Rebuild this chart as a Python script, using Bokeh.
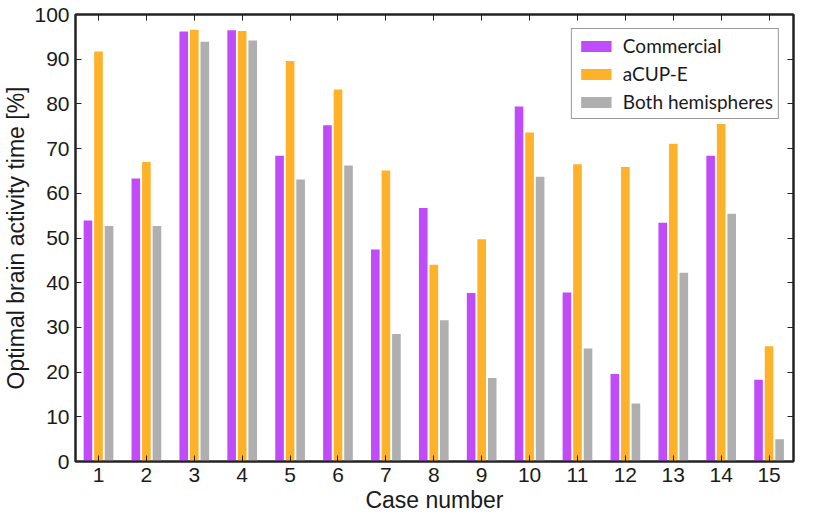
from bokeh.plotting import figure
from bokeh.models import Range1d, LinearAxis, FixedTicker, Legend, LegendItem, ColumnDataSource
from bokeh.transform import dodge
from bokeh.embed import file_html
from bokeh.resources import INLINE

cases = list(range(1, 16))
commercial = [53.9, 63.3, 96.2, 96.5, 68.4, 75.2, 47.4, 56.7, 37.7, 79.4, 37.8, 19.6, 53.4, 68.4, 18.3]
acupe = [91.7, 67.0, 96.6, 96.3, 89.6, 83.2, 65.1, 44.0, 49.7, 73.6, 66.5, 65.9, 71.1, 75.5, 25.8]
both = [52.7, 52.7, 93.9, 94.2, 63.1, 66.2, 28.5, 31.6, 18.7, 63.7, 25.3, 13.0, 42.2, 55.4, 5.0]
series_names = ["Commercial", "aCUP-E", "Both hemispheres"]
colors = ["#C04CF9", "#FDB22A", "#AFAFAF"]
y_ticks = [0, 10, 20, 30, 40, 50, 60, 70, 80, 90, 100]

src = ColumnDataSource(dict(case=cases, commercial=commercial, acupe=acupe, both=both))

FONT = "Liberation Sans"

p = figure(width=797, height=515, output_backend="svg", toolbar_location=None,
           x_range=Range1d(0.52, 15.51), y_range=Range1d(0, 100),
           min_border_left=0, min_border_right=4, min_border_top=14, min_border_bottom=0)
p.grid.visible = False
p.background_fill_color = "white"
p.outline_line_color = "#222222"
p.outline_line_width = 2

offsets = [-0.22, 0.0, 0.22]
fields = ["commercial", "acupe", "both"]
renderers = []
for f, off, c in zip(fields, offsets, colors):
    r = p.vbar(x=dodge("case", off), top=f, bottom=0, width=0.18, source=src,
               fill_color=c, line_color=None)
    renderers.append(r)

def style_axis(ax, labels=True):
    ax.axis_line_color = "#222222"
    ax.axis_line_width = 2
    ax.major_tick_in = 6
    ax.major_tick_out = 0
    ax.minor_tick_line_color = None
    ax.major_tick_line_color = "#222222"
    ax.major_tick_line_width = 1
    ax.major_label_text_font = FONT
    ax.major_label_text_font_size = "21px"
    ax.major_label_text_color = "#1a1a1a"
    ax.axis_label_text_font = FONT
    ax.axis_label_text_font_size = "23px"
    ax.axis_label_text_font_style = "normal"
    ax.axis_label_text_color = "#1a1a1a"
    if not labels:
        ax.major_label_text_color = None
        ax.major_label_text_font_size = "1px"
        ax.major_label_standoff = 0

xax = p.xaxis[0]
yax = p.yaxis[0]
xax.ticker = FixedTicker(ticks=cases)
yax.ticker = FixedTicker(ticks=y_ticks)
style_axis(xax)
style_axis(yax)
xax.axis_label = "Case number"
yax.axis_label = "Optimal brain activity time [%]"
xax.major_label_standoff = 6
xax.axis_label_standoff = 2
yax.major_label_standoff = 6
yax.axis_label_standoff = 2

top_ax = LinearAxis(ticker=FixedTicker(ticks=cases))
style_axis(top_ax, labels=False)
p.add_layout(top_ax, "above")
right_ax = LinearAxis(ticker=FixedTicker(ticks=y_ticks))
style_axis(right_ax, labels=False)
p.add_layout(right_ax, "right")

legend = Legend(items=[LegendItem(label=n, renderers=[r]) for n, r in zip(series_names, renderers)],
                location="top_right")
legend.margin = 14
legend.padding = 5
legend.spacing = 5
legend.label_height = 18
legend.glyph_width = 38
legend.glyph_height = 14
legend.label_standoff = 8
legend.label_text_font = "Lato"
legend.label_text_font_size = "19px"
legend.label_text_color = "#1a1a1a"
legend.border_line_color = "#333333"
legend.border_line_width = 1
legend.background_fill_alpha = 1
p.add_layout(legend, "center")

open("out.html", "w").write(file_html(p, INLINE))
